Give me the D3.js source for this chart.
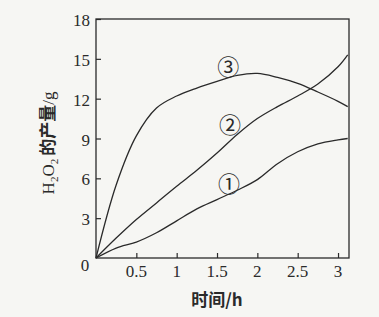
<!DOCTYPE html>
<html>
<head>
<meta charset="utf-8">
<script src="https://cdn.jsdelivr.net/npm/d3@7"></script>
<style>
  html, body { margin: 0; padding: 0; background: #f6f6f3; }
  svg { display: block; }
</style>
</head>
<body>
<svg id="chart" width="379" height="317"></svg>
<script>
// ---- data ----
const times   = [0, 0.25, 0.5, 0.75, 1, 1.25, 1.5, 1.75, 2, 2.25, 2.5, 2.75, 3, 3.12];
const series1 = [0, 0.75, 1.2, 1.9, 2.8, 3.7, 4.4, 5.1, 5.9, 7.1, 8.0, 8.6, 8.9, 9.0];
const series2 = [0, 1.5, 2.9, 4.15, 5.4, 6.6, 7.9, 9.3, 10.5, 11.4, 12.2, 13.1, 14.4, 15.3];
const series3 = [0, 5.5, 9.2, 11.3, 12.2, 12.8, 13.3, 13.75, 13.9, 13.6, 13.15, 12.5, 11.8, 11.4];
const seriesNames = ["①", "②", "③"];
const labelAt = [[1.65, 5.7], [1.66, 10.2], [1.64, 14.5]];
const xTicks = [0.5, 1, 1.5, 2, 2.5, 3];
const yTicks = [3, 6, 9, 12, 15, 18];
const xTitle = "时间/h";

// ---- layout ----
const svg = d3.select("#chart");
const x = d3.scaleLinear().domain([0, 3.136]).range([96, 349]);
const y = d3.scaleLinear().domain([0, 18]).range([258, 19]);
const ink = "#2a2a2a";
const serif = "'Liberation Serif', 'Times New Roman', serif";
const cjk = "'Noto Sans CJK SC', sans-serif";

// frame
svg.append("rect")
  .attr("x", x(0)).attr("y", y(18))
  .attr("width", x(3.136) - x(0)).attr("height", y(0) - y(18))
  .attr("fill", "none").attr("stroke", ink).attr("stroke-width", 1.3);

// x axis (ticks inward)
const xAxis = d3.axisTop(x).tickValues(xTicks).tickSize(5).tickFormat("");
const gx = svg.append("g").attr("transform", `translate(0,${y(0)})`).call(xAxis);
gx.select(".domain").remove();
gx.selectAll("line").attr("stroke", ink).attr("stroke-width", 1.2);
svg.append("g").selectAll("text").data(xTicks).join("text")
  .attr("x", d => x(d)).attr("y", 277)
  .attr("text-anchor", "middle")
  .attr("font-family", serif).attr("font-size", 17).attr("fill", ink)
  .text(d => d);

// y axis (ticks inward)
const yAxis = d3.axisRight(y).tickValues(yTicks).tickSize(5).tickFormat("");
const gy = svg.append("g").attr("transform", `translate(${x(0)},0)`).call(yAxis);
gy.select(".domain").remove();
gy.selectAll("line").attr("stroke", ink).attr("stroke-width", 1.2);
svg.append("g").selectAll("text").data(yTicks).join("text")
  .attr("x", 90).attr("y", d => y(d) + 7)
  .attr("text-anchor", "end")
  .attr("font-family", serif).attr("font-size", 17).attr("fill", ink)
  .text(d => d);

// origin label
svg.append("text").attr("x", 85).attr("y", 271).attr("text-anchor", "middle")
  .attr("font-family", serif).attr("font-size", 17).attr("fill", ink).text("0");

// curves
const line = d3.line()
  .x((d, i) => x(times[i]))
  .y(d => y(d))
  .curve(d3.curveCatmullRom.alpha(0.5));
[series1, series2, series3].forEach(s => {
  svg.append("path").datum(s)
    .attr("d", line)
    .attr("fill", "none").attr("stroke", ink).attr("stroke-width", 1.3);
});

// curve labels
svg.append("g").selectAll("text").data(seriesNames).join("text")
  .attr("x", (d, i) => x(labelAt[i][0])).attr("y", (d, i) => y(labelAt[i][1]))
  .attr("text-anchor", "middle").attr("dominant-baseline", "central")
  .attr("font-family", cjk).attr("font-size", 22).attr("fill", ink)
  .text(d => d);

// x title
svg.append("text").attr("x", 217).attr("y", 306).attr("text-anchor", "middle")
  .attr("font-family", cjk).attr("font-weight", 700).attr("font-size", 17).attr("fill", ink)
  .text(xTitle);

// y title
const yt = svg.append("text")
  .attr("transform", "translate(54,143) rotate(-90)")
  .attr("text-anchor", "middle").attr("fill", ink).attr("font-size", 17);
yt.append("tspan").attr("font-family", serif).text("H");
yt.append("tspan").attr("font-family", serif).attr("font-size", 11).attr("dy", 4).text("2");
yt.append("tspan").attr("font-family", serif).attr("dy", -4).text("O");
yt.append("tspan").attr("font-family", serif).attr("font-size", 11).attr("dy", 4).text("2");
yt.append("tspan").attr("font-family", cjk).attr("font-weight", 700).attr("dy", -4).attr("dx", 3).text("的产量");
yt.append("tspan").attr("font-family", serif).text("/g");
</script>
</body>
</html>
